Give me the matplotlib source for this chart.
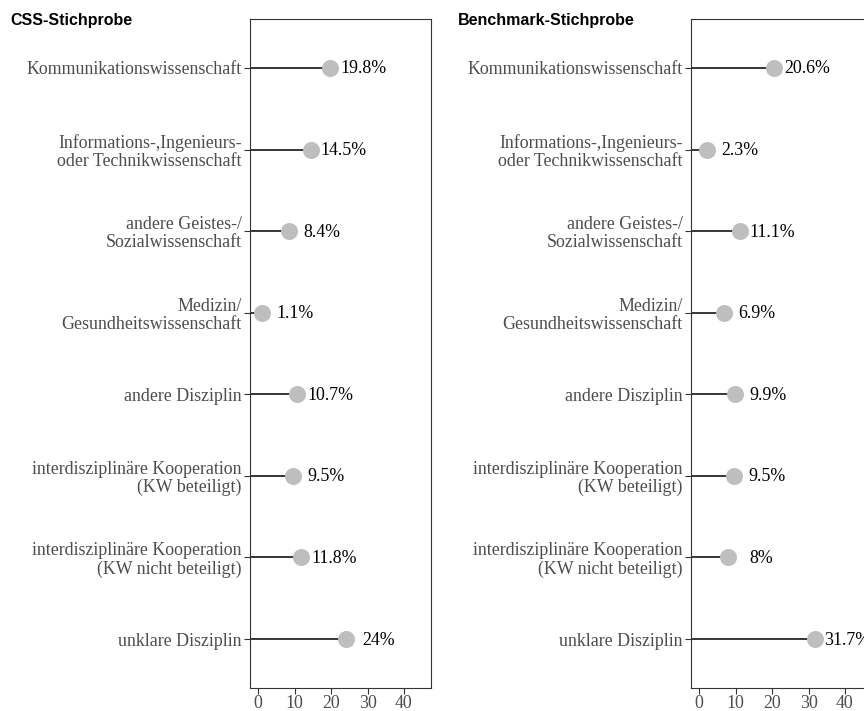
import matplotlib
matplotlib.use("Agg")
import matplotlib.pyplot as plt

categories = [
    "Kommunikationswissenschaft",
    "Informations-,Ingenieurs-\noder Technikwissenschaft",
    "andere Geistes-/\nSozialwissenschaft",
    "Medizin/\nGesundheitswissenschaft",
    "andere Disziplin",
    "interdisziplinäre Kooperation\n(KW beteiligt)",
    "interdisziplinäre Kooperation\n(KW nicht beteiligt)",
    "unklare Disziplin",
]
css_values = [19.8, 14.5, 8.4, 1.1, 10.7, 9.5, 11.8, 24.0]
css_labels = ["19.8%", "14.5%", "8.4%", "1.1%", "10.7%", "9.5%", "11.8%", "24%"]
bench_values = [20.6, 2.3, 11.1, 6.9, 9.9, 9.5, 8.0, 31.7]
bench_labels = ["20.6%", "2.3%", "11.1%", "6.9%", "9.9%", "9.5%", "8%", "31.7%"]
panel_titles = ["CSS-Stichprobe", "Benchmark-Stichprobe"]
xticks = [0, 10, 20, 30, 40]

W, H = 864, 711
fig = plt.figure(figsize=(W / 100, H / 100), dpi=100)

serif = ["Liberation Serif", "DejaVu Serif"]
sans = ["Liberation Sans", "DejaVu Sans"]
XMIN, XMAX = -2.2, 47.4
FS = 12.9

def panel(left_px, values, labels, title, title_x):
    ax = fig.add_axes([left_px / W, (H - 688) / H, 181 / W, (688 - 19) / H])
    ys = list(range(1, len(categories) + 1))
    ax.hlines(ys, XMIN, values, color="black", lw=1.1, zorder=1)
    ax.scatter(values, ys, s=150, color="#bebebe", zorder=2, linewidths=0)
    for v, y, lab in zip(values, ys, labels):
        ax.text(v + 9, y + 0.012, lab, ha="center", va="center", fontsize=FS,
                family=serif, color="black", clip_on=False)
    ax.set_xlim(XMIN, XMAX)
    ax.set_ylim(len(categories) + 0.6, 0.4)
    ax.set_yticks(ys)
    ax.set_yticklabels(categories, family=serif, fontsize=FS, color="#4d4d4d",
                       linespacing=1.1)
    ax.set_xticks(xticks)
    ax.set_xticklabels([str(t) for t in xticks], family=serif, fontsize=FS,
                       color="#4d4d4d")
    ax.tick_params(axis="both", length=4, width=0.8, color="#333333", pad=2)
    ax.tick_params(axis="x", pad=1)
    for sp in ax.spines.values():
        sp.set_color("#333333")
        sp.set_linewidth(0.8)
    fig.text(title_x / W, 1 - 21 / H, title, family=sans, fontweight="bold",
             fontsize=11.5, ha="left", va="center", color="black")
    return ax

panel(250, css_values, css_labels, panel_titles[0], 10)
panel(691, bench_values, bench_labels, panel_titles[1], 458)

fig.savefig("out.png", dpi=100)
